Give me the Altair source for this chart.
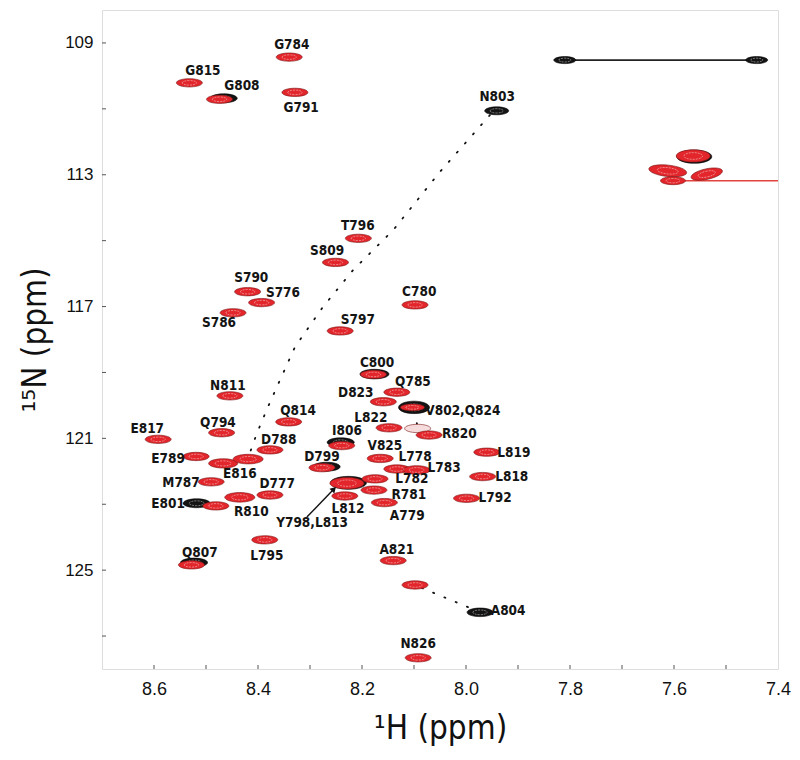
import altair as alt
import pandas as pd

# ---------------- data (ppm) ----------------
red_id = ["G784", "G815", "G808", "G791", "c1", "c2", "c3", "c4", "T796", "S809", "S790", "S776",
          "S786", "C780", "S797", "C800", "Q785", "D823", "V802", "N811", "Q814", "E817", "Q794",
          "L822", "R820a", "R820b", "I806", "D788", "E789", "V825", "L819", "E816a", "E816b",
          "D799", "L778", "L783", "L818", "L782", "M787", "Y798", "R781", "L812", "D777", "R810",
          "L792", "A779", "E801", "L795", "A821", "Q807", "X125", "N826"]
red_h = [8.340, 8.532, 8.474, 8.329, 7.563, 7.612, 7.537, 7.602, 8.207, 8.251, 8.420, 8.393,
         8.448, 8.098, 8.242, 8.178, 8.133, 8.159, 8.103, 8.454, 8.341, 8.592, 8.470,
         8.148, 8.093, 8.071, 8.239, 8.377, 8.519, 8.165, 7.960, 8.467, 8.419,
         8.277, 8.133, 8.095, 7.968, 8.175, 8.490, 8.229, 8.177, 8.233, 8.377, 8.435,
         7.999, 8.157, 8.481, 8.387, 8.140, 8.528, 8.098, 8.092]
red_n = [109.43, 110.21, 110.71, 110.50, 112.43, 112.88, 112.98, 113.18, 114.93, 115.66, 116.55, 116.88,
         117.19, 116.95, 117.74, 119.06, 119.60, 119.89, 120.06, 119.71, 120.50, 121.03, 120.83,
         120.68, 120.70, 120.90, 121.22, 121.35, 121.55, 121.61, 121.42, 121.76, 121.63,
         121.89, 121.93, 121.96, 122.16, 122.23, 122.32, 122.36, 122.57, 122.75, 122.72, 122.79,
         122.82, 122.95, 123.05, 124.08, 124.71, 124.84, 125.45, 127.66]

black_id = ["G808b", "N803", "top1", "top2", "V802b", "I806b", "D799b", "E801b", "Q807b", "A804",
            "C800b", "Y798b", "c1b"]
black_h = [8.466, 7.941, 7.810, 7.441, 8.100, 8.241, 8.268, 8.518, 8.523, 7.973, 8.176, 8.226, 7.561]
black_n = [110.68, 111.06, 109.52, 109.52, 120.06, 121.12, 121.86, 122.97, 124.77, 126.28, 119.05, 122.35, 112.45]

label_text = ["G784", "G815", "G808", "G791", "N803", "T796", "S809", "S790", "S776", "S786", "C780",
              "S797", "C800", "Q785", "D823", "V802,Q824", "N811", "Q814", "E817", "Q794", "L822",
              "R820", "I806", "D788", "E789", "V825", "L819", "E816", "D799", "L778", "L783", "L818",
              "L782", "M787", "D777", "R781", "L792", "E801", "R810", "L812", "Y798,L813", "A779",
              "L795", "Q807", "A821", "A804", "N826"]
label_h = [8.335, 8.506, 8.431, 8.317, 7.940, 8.208, 8.267, 8.413, 8.352, 8.475, 8.090,
           8.208, 8.171, 8.102, 8.212, 8.006, 8.458, 8.323, 8.613, 8.477, 8.183,
           8.013, 8.229, 8.360, 8.573, 8.156, 7.908, 8.435, 8.277, 8.098, 8.042, 7.912,
           8.104, 8.548, 8.363, 8.110, 7.944, 8.573, 8.413, 8.227, 8.296, 8.113,
           8.383, 8.512, 8.133, 7.919, 8.092]
label_n = [109.06, 109.85, 110.31, 110.97, 110.64, 114.56, 115.31, 116.13, 116.59, 117.50, 116.56,
           117.41, 118.71, 119.29, 119.62, 120.16, 119.41, 120.17, 120.72, 120.53, 120.38,
           120.87, 120.78, 121.05, 121.63, 121.23, 121.44, 122.08, 121.57, 121.57, 121.90, 122.16,
           122.23, 122.36, 122.39, 122.72, 122.82, 122.99, 123.24, 123.14, 123.57, 123.36,
           124.57, 124.47, 124.39, 126.24, 127.24]

# dotted chemical-shift trajectories
traj1_h = [7.954, 8.050, 8.140, 8.217, 8.275, 8.329, 8.362, 8.381, 8.402, 8.415]
traj1_n = [111.19, 112.91, 114.68, 115.89, 117.01, 118.23, 119.38, 120.05, 120.84, 121.41]
traj2_h = [8.085, 7.992]
traj2_n = [125.54, 126.15]
traj3_h = [8.100, 8.094]
traj3_n = [120.18, 120.58]

# solid connecting lines
black_line_h = [7.810, 7.441]
black_line_n = [109.52, 109.52]
red_line_h = [7.602, 7.400]
red_line_n = [113.18, 113.18]

# arrow to Y798,L813
arrow_h = [8.306, 8.254]
arrow_n = [123.39, 122.54]

x_ticks = [8.6, 8.4, 8.2, 8.0, 7.8, 7.6, 7.4]
x_minor = [8.6, 8.5, 8.4, 8.3, 8.2, 8.1, 8.0, 7.9, 7.8, 7.7, 7.6, 7.5]
y_ticks = [109, 113, 117, 121, 125]
y_minor = [109, 111, 113, 115, 117, 119, 121, 123, 125, 127]

# ---------------- style ----------------
RED = "#e3262b"
NARROW = "Liberation Sans Narrow, DejaVu Sans Condensed, sans-serif"
SANS = "Liberation Sans, Arial, sans-serif"
XDOM = [7.4, 8.7]
YDOM = [108, 128]
W, H = 676, 659


def ell(r):
    return f"M -1 0 A 1 {r} 0 1 1 1 0 A 1 {r} 0 1 1 -1 0 Z"


red_width = {"c1": 34, "c2": 38, "c3": 32, "c4": 25, "Y798": 34, "E816a": 29, "E816b": 30,
             "R810": 30, "V802": 24, "L783": 27, "R820a": 26}
red_ratio = {"c1": 0.36, "c2": 0.3, "c3": 0.33, "Y798": 0.34, "V802": 0.28}
red_angle = {"c2": 6, "c3": 348}
black_width = {"top1": 22, "top2": 22, "V802b": 31, "Y798b": 36, "c1b": 35, "N803": 24,
               "C800b": 29, "A804": 26}
black_ratio = {"top1": 0.32, "top2": 0.32, "V802b": 0.4, "Y798b": 0.36, "c1b": 0.38}

xs = alt.Scale(domain=XDOM, reverse=True, nice=False, zero=False)
ys = alt.Scale(domain=YDOM, reverse=True, nice=False, zero=False)

XAX = alt.Axis(
    values=x_ticks, format=".1f", title="¹H (ppm)", grid=False, ticks=False, domain=False,
    labelFont=SANS, labelFontSize=18, labelPadding=11, labelFlush=False, labelColor="#111",
    titleFont=NARROW, titleFontSize=33, titleFontWeight="normal", titlePadding=14,
    titleColor="#111")
YAX = alt.Axis(
    values=y_ticks, format="d", title="¹⁵N (ppm)", grid=False, ticks=False, domain=False,
    labelFont=SANS, labelFontSize=17, labelPadding=9, labelFlush=False, labelColor="#111",
    titleFont=NARROW, titleFontSize=33, titleFontWeight="normal", titlePadding=12,
    titleColor="#111")


def X(f="h"):
    return alt.X(f"{f}:Q", scale=xs, axis=XAX, title="¹H (ppm)")


def Y(f="n"):
    return alt.Y(f"{f}:Q", scale=ys, axis=YAX, title="¹⁵N (ppm)")


red = pd.DataFrame({"id": red_id, "h": red_h, "n": red_n})
red["w"] = [red_width.get(i, 26) for i in red_id]
red["size"] = red["w"] ** 2
red["inner"] = (red["w"] * 0.55) ** 2
red["shape"] = [ell(red_ratio.get(i, 0.32)) for i in red_id]
red["ang"] = [red_angle.get(i, 0) for i in red_id]
red["fill"] = [("#f6dede" if i == "R820a" else RED) for i in red_id]

blk = pd.DataFrame({"id": black_id, "h": black_h, "n": black_n})
blk["w"] = [black_width.get(i, 27) for i in black_id]
blk["size"] = blk["w"] ** 2
blk["inner"] = (blk["w"] * 0.55) ** 2
blk["shape"] = [ell(black_ratio.get(i, 0.33)) for i in black_id]

labels = pd.DataFrame({"t": label_text, "h": label_h, "n": label_n})

dots = pd.concat([
    pd.DataFrame({"g": "a", "h": traj1_h, "n": traj1_n, "i": range(len(traj1_h))}),
    pd.DataFrame({"g": "b", "h": traj2_h, "n": traj2_n, "i": range(len(traj2_h))}),
    pd.DataFrame({"g": "c", "h": traj3_h, "n": traj3_n, "i": range(len(traj3_h))}),
])
bline = pd.DataFrame({"h": black_line_h, "n": black_line_n})
rline = pd.DataFrame({"h": red_line_h, "n": red_line_n})
arrow = pd.DataFrame({"h": arrow_h, "n": arrow_n, "i": [0, 1]})
head = arrow.iloc[[1]]

xticks_df = pd.DataFrame({"h": x_minor, "n": 128.0, "n1": 128.0 - 4 / (H / 20)})
yticks_df = pd.DataFrame({"n": y_minor, "h": 8.7, "h1": 8.7 - 4 / (W / 1.3)})

xt = alt.Chart(xticks_df).mark_rule(color="#555", strokeWidth=1).encode(
    x=X(), y=Y(), y2="n1:Q")
yt = alt.Chart(yticks_df).mark_rule(color="#555", strokeWidth=1).encode(
    y=Y(), x=X(), x2="h1:Q")

dot_layer = alt.Chart(dots).mark_line(color="#111", strokeWidth=1.8, strokeDash=[1.2, 11],
                                      strokeCap="round").encode(
    x=X(), y=Y(), detail="g:N", order="i:Q")
bl = alt.Chart(bline).mark_line(color="#222", strokeWidth=1.6).encode(x=X(), y=Y())
rl = alt.Chart(rline).mark_line(color="#e2453f", strokeWidth=1.6, clip=True).encode(x=X(), y=Y())

black_pk = alt.Chart(blk).mark_point(filled=True, color="#141414", stroke="#000",
                                     strokeWidth=0.6, opacity=1).encode(
    x=X(), y=Y(), size=alt.Size("size:Q", scale=None, legend=None),
    shape=alt.Shape("shape:N", scale=None, legend=None))
black_in = alt.Chart(blk).mark_point(filled=False, color="#cfcfcf", strokeWidth=0.6,
                                     opacity=0.9, strokeDash=[2, 1]).encode(
    x=X(), y=Y(), size=alt.Size("inner:Q", scale=None, legend=None),
    shape=alt.Shape("shape:N", scale=None, legend=None))

red_pk = alt.Chart(red).mark_point(filled=True, stroke="#7a1515", strokeWidth=0.6,
                                   opacity=1).encode(
    x=X(), y=Y(), size=alt.Size("size:Q", scale=None, legend=None),
    shape=alt.Shape("shape:N", scale=None, legend=None),
    angle=alt.Angle("ang:Q", scale=None),
    fill=alt.Fill("fill:N", scale=None, legend=None))
red_in = alt.Chart(red).mark_point(filled=False, color="#f7d0d0", strokeWidth=0.6,
                                   opacity=0.9, strokeDash=[2, 1]).encode(
    x=X(), y=Y(), size=alt.Size("inner:Q", scale=None, legend=None),
    shape=alt.Shape("shape:N", scale=None, legend=None),
    angle=alt.Angle("ang:Q", scale=None))

arrow_line = alt.Chart(arrow).mark_line(color="#111", strokeWidth=1.4).encode(
    x=X(), y=Y(), order="i:Q")
arrow_head = alt.Chart(head).mark_point(shape="triangle-up", filled=True, color="#111",
                                        size=45, angle=44, opacity=1).encode(x=X(), y=Y())

text = alt.Chart(labels).mark_text(font=NARROW, fontSize=13.5, fontWeight="bold", color="#141414",
                                   align="center", baseline="middle").encode(
    x=X(), y=Y(), text="t:N")

chart = alt.layer(xt, yt, dot_layer, bl, rl, black_pk, black_in, red_pk, red_in,
                  arrow_line, arrow_head, text).properties(
    width=W, height=H,
    autosize=alt.AutoSizeParams(type="none"),
    padding={"left": 94, "top": 2, "right": 14, "bottom": 84},
).configure_view(stroke="#6a6a6a", strokeWidth=1.3).configure(background="white")

chart.save("out.html", embed_options={"renderer": "svg", "actions": False})
